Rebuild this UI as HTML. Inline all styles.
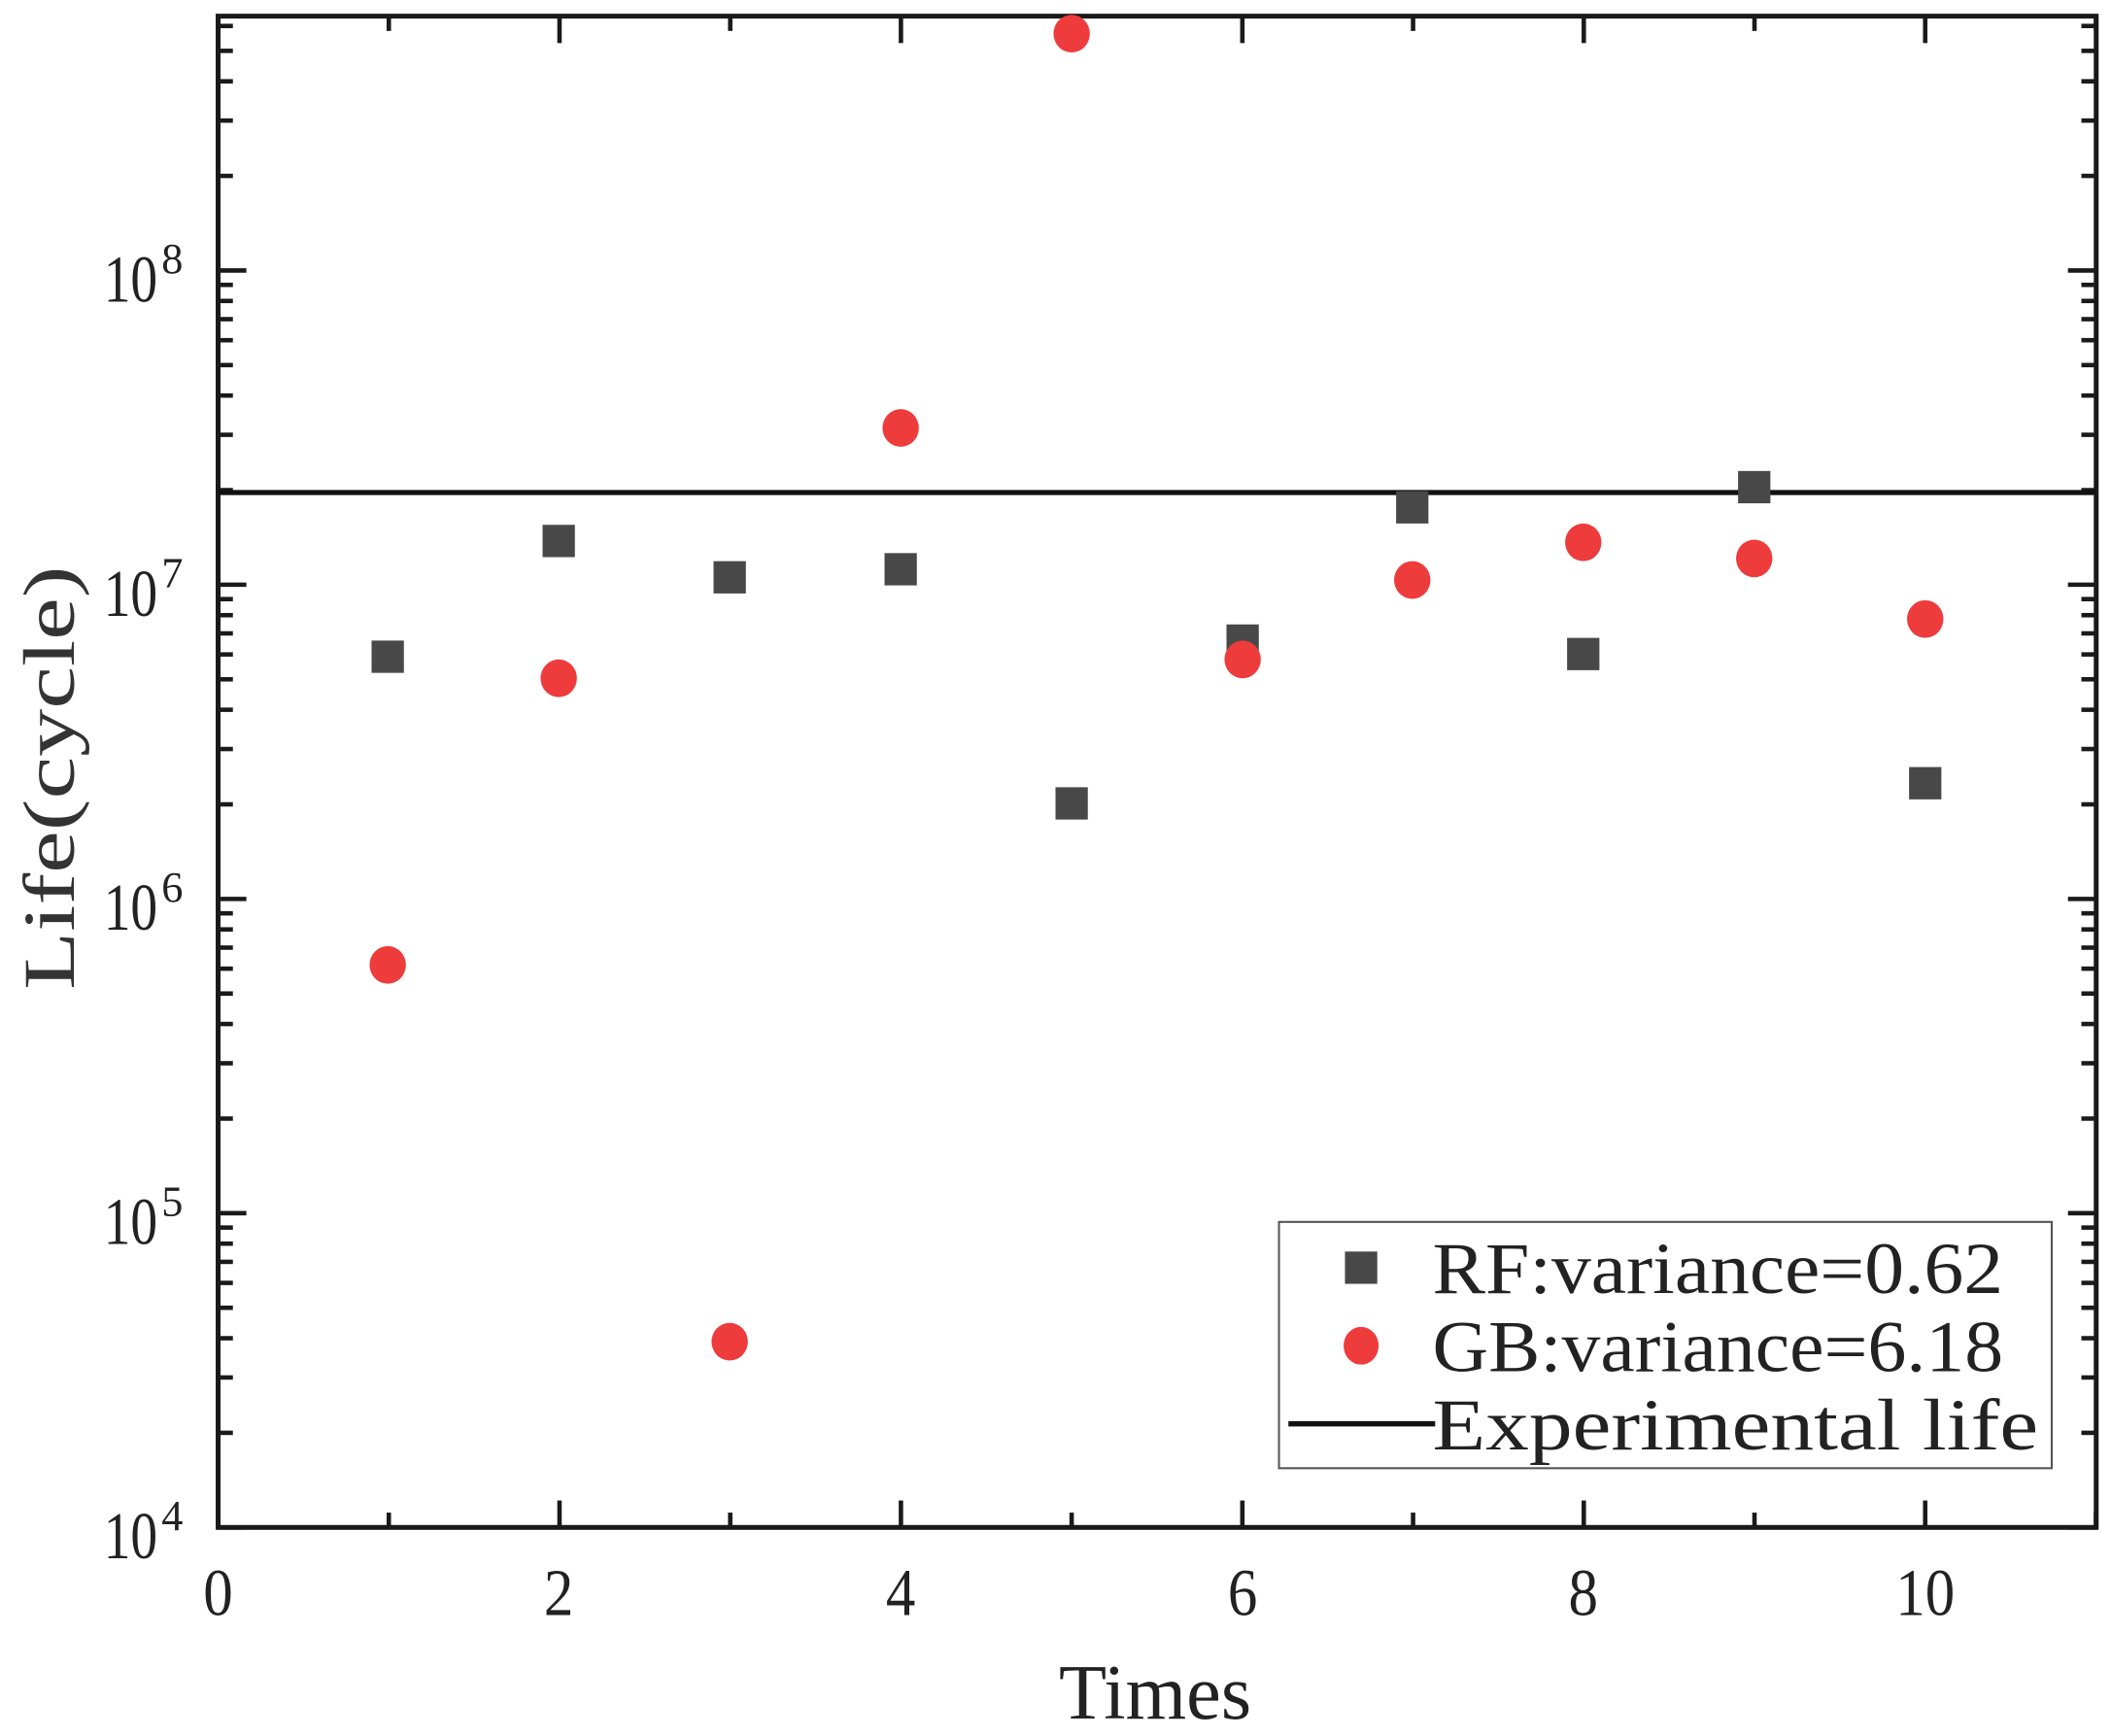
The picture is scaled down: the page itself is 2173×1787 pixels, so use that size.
<!DOCTYPE html>
<html><head><meta charset="utf-8"><style>html,body{margin:0;padding:0;background:#fff}svg{display:block}</style></head>
<body>
<svg width="2173" height="1787" viewBox="0 0 1568 1290" preserveAspectRatio="none" xmlns="http://www.w3.org/2000/svg" font-family="'Liberation Serif', serif" fill="#222">
<rect width="1568" height="1290" fill="#fff"/>
<g stroke="#1a1a1a" stroke-width="3.6" fill="none">
<rect x="162" y="12" width="1395" height="1123"/>
</g>
<g id="ticks" stroke="#1a1a1a" stroke-width="3.3"></g>
<g font-size="50">
<text x="162" y="1200" text-anchor="middle" textLength="22" lengthAdjust="spacingAndGlyphs">0</text>
<text x="415" y="1200" text-anchor="middle" textLength="22" lengthAdjust="spacingAndGlyphs">2</text>
<text x="669" y="1200" text-anchor="middle" textLength="22" lengthAdjust="spacingAndGlyphs">4</text>
<text x="923" y="1200" text-anchor="middle" textLength="22" lengthAdjust="spacingAndGlyphs">6</text>
<text x="1176" y="1200" text-anchor="middle" textLength="22" lengthAdjust="spacingAndGlyphs">8</text>
<text x="1430" y="1200" text-anchor="middle" textLength="44" lengthAdjust="spacingAndGlyphs">10</text>
</g>
<g id="ylab"></g>
<text x="858" y="1277" font-size="58" text-anchor="middle" textLength="143" lengthAdjust="spacingAndGlyphs">Times</text>
<text transform="translate(55,578) rotate(-90)" font-size="54" fill="#333" text-anchor="middle" textLength="315" lengthAdjust="spacingAndGlyphs">Life(cycle)</text>
<line x1="162" y1="366" x2="1557" y2="366" stroke="#111" stroke-width="3.8"/>
<g fill="#484848">
<rect x="276" y="476" width="24" height="24"/><rect x="403" y="390" width="24" height="24"/>
<rect x="530" y="417" width="24" height="24"/><rect x="657" y="411" width="24" height="24"/>
<rect x="784" y="585" width="24" height="24"/><rect x="911" y="464" width="24" height="24"/>
<rect x="1037" y="365" width="24" height="24"/><rect x="1164" y="474" width="24" height="24"/>
<rect x="1291" y="350" width="24" height="24"/><rect x="1418" y="570" width="24" height="24"/>
</g>
<g fill="#ee3b3b">
<ellipse cx="288" cy="717" rx="13.5" ry="14"/><ellipse cx="415" cy="504" rx="13.5" ry="14"/>
<ellipse cx="542" cy="997" rx="13.5" ry="14"/><ellipse cx="669" cy="318" rx="13.5" ry="14"/>
<ellipse cx="796" cy="25" rx="13.5" ry="14"/><ellipse cx="923" cy="490" rx="13.5" ry="14"/>
<ellipse cx="1049" cy="431" rx="13.5" ry="14"/><ellipse cx="1176" cy="403" rx="13.5" ry="14"/>
<ellipse cx="1303" cy="415" rx="13.5" ry="14"/><ellipse cx="1430" cy="460" rx="13.5" ry="14"/>
</g>
<rect x="950" y="908" width="574" height="183" fill="#fff" stroke="#555" stroke-width="1.5"/>
<rect x="999" y="930" width="24" height="24" fill="#484848"/>
<ellipse cx="1011" cy="1000" rx="13" ry="14" fill="#ee3b3b"/>
<line x1="957" y1="1058" x2="1066" y2="1058" stroke="#111" stroke-width="4"/>
<g font-size="54">
<text x="1064" y="961" textLength="424" lengthAdjust="spacingAndGlyphs">RF:variance=0.62</text>
<text x="1064" y="1019" textLength="424" lengthAdjust="spacingAndGlyphs">GB:variance=6.18</text>
<text x="1064" y="1077" textLength="450" lengthAdjust="spacingAndGlyphs">Experimental life</text>
</g>
<script>
(function(){
var ns="http://www.w3.org/2000/svg",t=document.getElementById("ticks"),yl=document.getElementById("ylab");
function L(a,b,c,d){var l=document.createElementNS(ns,"line");l.setAttribute("x1",a);l.setAttribute("y1",b);l.setAttribute("x2",c);l.setAttribute("y2",d);t.appendChild(l);}
function Y(v){return 1135-(v-4)*233.5;}
for(var i=1;i<=11;i++){var x=162+i*126.8;var len=(i%2==0)?20:11;L(x,1135,x,1135-len);L(x,12,x,12+len);}
for(var d=4;d<=8;d++){for(var k=1;k<=9;k++){var y=Y(d+Math.log10(k));if(y<12)continue;var len=(k==1)?21:11;L(162,y,162+len,y);L(1557,y,1557-len,y);}}
for(var d=4;d<=8;d++){var y=Y(d);var g=document.createElementNS(ns,"text");g.setAttribute("x",77);g.setAttribute("y",y+23);g.setAttribute("font-size","50");g.setAttribute("textLength","40");g.setAttribute("lengthAdjust","spacingAndGlyphs");g.textContent="10";yl.appendChild(g);
var s=document.createElementNS(ns,"text");s.setAttribute("x",120);s.setAttribute("y",y+2);s.setAttribute("font-size","32");s.setAttribute("textLength","16");s.setAttribute("lengthAdjust","spacingAndGlyphs");s.textContent=d;yl.appendChild(s);}
})();
</script>
</svg>
</body></html>
